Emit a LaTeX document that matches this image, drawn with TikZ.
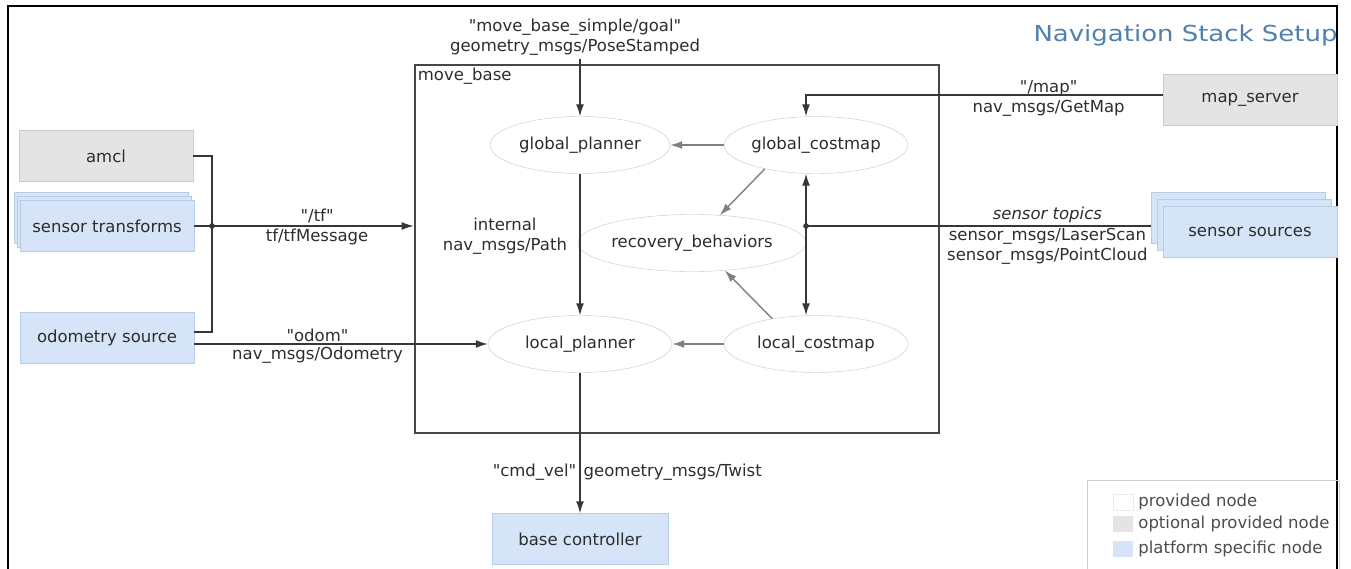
\documentclass[tikz,border=0pt]{standalone}
\usepackage{fontspec}
\setmainfont[Ligatures=TeXOff]{DejaVu Sans}
\newfontfamily\titlefont[FakeStretch=1.18]{DejaVu Sans}
\usepackage{tikz}
\usetikzlibrary{shapes,arrows,arrows.meta}
\usetikzlibrary{positioning}
\tikzstyle{line} = [draw, -{Latex[length=12pt,width=8pt]}]
\definecolor{optfill}{RGB}{228,228,228}
\definecolor{optdraw}{RGB}{204,204,204}
\definecolor{platfill}{RGB}{213,228,246}
\definecolor{platdraw}{RGB}{184,204,229}
\definecolor{titleblue}{RGB}{80,128,172}
\definecolor{textgray}{RGB}{45,45,45}
\definecolor{linegray}{RGB}{55,55,55}

\begin{document}
\begin{tikzpicture}[x=1pt, y=-1pt,
	every node/.style={font=\fontsize{16.5}{20}\selectfont, text=textgray},
	box/.style={minimum width=174pt, minimum height=51pt, inner sep=0pt,
		draw=optdraw, fill=optfill, rectangle},
	platbox/.style={box, draw=platdraw, fill=platfill},
	proc/.style={ellipse, draw=black!22, fill=white, inner sep=0pt,
		minimum width=184pt, minimum height=57pt},
	conn/.style={draw=linegray, line width=1.4pt},
	soft/.style={draw=black!50, line width=1.4pt},
	lbl/.style={inner sep=2pt},
	swatch/.style={minimum width=20pt, minimum height=16pt, inner sep=0pt}]
	\useasboundingbox (0,0) rectangle (1351,569);
	\draw [line width=1.6pt] (8,580) -- (8,6) -- (1337,6) -- (1337,580);
	\node [anchor=base west, text=titleblue, font=\titlefont\fontsize{22}{26}\selectfont] at (1030,42) (Title) {Navigation Stack Setup};
	%% move_base
	\node [draw=black!72, line width=2.6pt, minimum width=524pt, minimum height=368pt] at (677,249) (MB) {};
	\node [anchor=north west, inner sep=4pt] at (MB.north west) (MBName) {move\_base};
	%% Nodes
	\node [proc, minimum width=180pt] at (580,145) (GP) {global\_planner};
	\node [proc] at (816,145) (GC) {global\_costmap};
	\node [proc] at (692,243) (RB) {recovery\_behaviors};
	\node [proc] at (580,344) (LP) {local\_planner};
	\node [proc] at (816,344) (LC) {local\_costmap};
	\node [box] at (106,156) (AM) {amcl};
	\node [platbox] at (101,218) (STback) {};
	\node [platbox] at (104,222) (STmid) {};
	\node [platbox] at (107,226) (ST) {sensor transforms};
	\node [platbox] at (107,338) (OD) {odometry source};
	\node [box] at (1250,100) (MS) {map\_server};
	\node [platbox] at (1238,218) (SSback) {};
	\node [platbox] at (1244,225) (SSmid) {};
	\node [platbox] at (1250,232) (SS) {sensor sources};
	\node [platbox, minimum width=176pt] at (580,539) (BC) {base controller};
	\node [align=center] at (575,37) (GoalLbl) {"move\_base\_simple/goal"\\geometry\_msgs/PoseStamped};
	\coordinate (TFJoin) at (212,226);
	\coordinate (SJoin) at (806,226);
	%% Flows
	\path [line, conn] (GoalLbl.south -| GP.north) -- (GP);
	\path [line, conn] ([yshift=5pt]MS.west) -| node [pos=0.16, align=center, yshift=-3pt] (MapLbl) {"/map"\\nav\_msgs/GetMap} ([xshift=-10pt]GC.north);
	\path [line, conn] (ST.east) -- node [pos=0.56, above, lbl] (TFLbl) {"/tf"} node [pos=0.56, below, lbl] (TFType) {tf/tfMessage} (ST.east -| MB.west);
	\draw [conn] (AM.east) -| (TFJoin) |- ([yshift=6pt]OD.east);
	\fill [linegray] (TFJoin) circle (2.8pt);
	\path [line, conn] ([yshift=-6pt]OD.east) -- node [pos=0.42, above, lbl] (OdomLbl) {"odom"} node [pos=0.42, below, lbl] (OdomType) {nav\_msgs/Odometry} (LP.west);
	\path [line, conn] (GP) -- node [pos=0.44, left=9pt, align=center] (PathLbl) {internal\\nav\_msgs/Path} (LP);
	\path [line, soft] (GC) -- (GP);
	\path [line, soft] (LC) -- (LP);
	\path [line, soft] (GC.205) -- (RB.45);
	\path [line, soft] (LC.150) -- (RB.320);
	\path [draw, conn, {Latex[length=12pt,width=8pt]}-{Latex[length=12pt,width=8pt]}] ([xshift=-10pt]GC.south) -- ([xshift=-10pt]LC.north);
	\draw [conn] (SJoin) -- node [pos=0.7, above, lbl] (TopicLbl) {\itshape sensor topics} node [pos=0.7, below, lbl, align=center] (TopicType) {sensor\_msgs/LaserScan\\sensor\_msgs/PointCloud} (SJoin -| SSback.west);
	\fill [linegray] (SJoin) circle (2.8pt);
	\path [line, conn] (LP) -- node [pos=0.71, left, inner sep=3pt] (CmdLbl) {"cmd\_vel"} node [pos=0.71, right, inner sep=3pt] (CmdType) {geometry\_msgs/Twist} (BC);
	%% Legend
	\node [draw=black!18, line width=1pt, minimum width=252pt, minimum height=92pt] at (1213,526) (Legend) {};
	\node [swatch, draw=black!8, fill=white] at (1123,502) (SwProv) {};
	\node [swatch, fill=optfill] at (1123,524) (SwOpt) {};
	\node [swatch, fill=platfill] at (1123,549) (SwPlat) {};
	\node [right=5pt of SwProv, inner sep=0pt, text=black!70] (LgProv) {provided node};
	\node [right=5pt of SwOpt, inner sep=0pt, text=black!70] (LgOpt) {optional provided node};
	\node [right=5pt of SwPlat, inner sep=0pt, text=black!70] (LgPlat) {platform specific node};
\end{tikzpicture}
\end{document}
